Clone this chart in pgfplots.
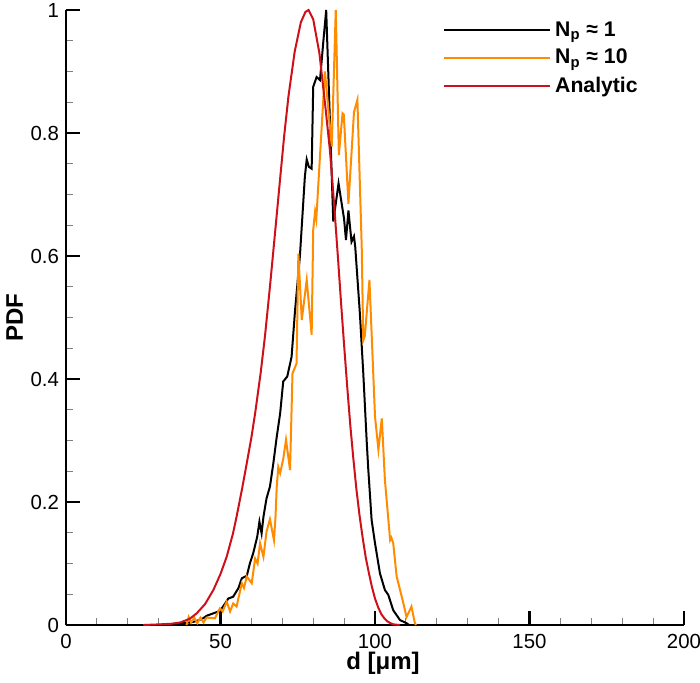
\documentclass[border=0pt]{standalone}
\usepackage{pgfplots}
\pgfplotsset{compat=1.18}
\usepackage{fontspec}
\setmainfont{Liberation Sans}
\definecolor{cOrange}{RGB}{255,140,0}
\definecolor{cRed}{RGB}{205,16,26}
\begin{document}
\begin{tikzpicture}
\useasboundingbox (-33pt,-28.5pt) rectangle (317pt,312.5pt);
\begin{axis}[
  at={(0,0)}, anchor=south west,
  scale only axis, width=309pt, height=307.5pt,
  xmin=0, xmax=200, ymin=0, ymax=1,
  axis x line=bottom, axis y line=left,
  axis line style={-, line width=1.2pt},
  xtick={0,50,100,150,200}, ytick={0,0.2,0.4,0.6,0.8,1},
  minor x tick num=4, minor y tick num=3,
  tick align=inside,
  major tick length=7pt, minor tick length=3.5pt,
  major tick style={line width=1.2pt, black},
  minor tick style={line width=0.5pt, gray},
  /pgf/number format/assume math mode=true,
  ticklabel style={font=\fontsize{10.2}{12}\selectfont},
  xticklabel style={yshift=-1pt},
  xlabel={\textbf{d [μm]}},
  ylabel={\textbf{PDF}},
  label style={font=\fontsize{12}{14}\selectfont},
  xlabel style={at={(axis description cs:0.513,-0.062)}, anchor=center},
  ylabel style={at={(axis description cs:-0.083,0.5)}, anchor=center},
  clip=false,
  legend style={draw=none, fill=none, at={(axis description cs:0.6,0.995)}, anchor=north west,
    font=\fontsize{10.6}{12}\selectfont\bfseries, row sep=1pt},
  legend cell align=left,
  legend image code/.code={\draw[#1] (0pt,0pt) -- (50pt,0pt); \path (0pt,0pt) -- (53pt,0pt);},
]
\addplot[black, line width=1pt] table {
x y
30 0.000
36 0.002
40 0.004
42 0.006
44.4 0.011
45.5 0.015
47.7 0.019
49.3 0.022
50.4 0.027
51.5 0.035
52.5 0.043
54.1 0.046
55.8 0.060
56.9 0.076
58.5 0.080
59.5 0.100
60.6 0.117
61.9 0.144
62.6 0.168
63.3 0.149
63.9 0.176
64.9 0.206
66.0 0.225
67.1 0.263
68.2 0.306
69.3 0.344
70.3 0.396
71.6 0.404
73.0 0.436
74.1 0.510
75.7 0.600
77.3 0.729
77.9 0.757
78.6 0.745
79.5 0.742
80.0 0.875
81.1 0.891
82.2 0.886
83.3 0.950
84.2 1.000
86.5 0.656
88.2 0.718
90.0 0.660
90.6 0.626
91.4 0.674
92.4 0.623
93.2 0.632
93.6 0.615
95.1 0.507
96.2 0.410
97.3 0.300
97.8 0.255
98.9 0.171
100.0 0.133
101.6 0.084
103.2 0.057
104.3 0.049
105.9 0.024
108.1 0.008
110.2 0.003
111.0 0.000
};
\addlegendentry{N\textsubscript{p} ≈ 1}
\addplot[cOrange, line width=1pt] table {
x y
39.0 0.000
39.7 0.013
40.5 0.004
41.5 0.012
42.5 0.003
43.5 0.012
44.5 0.004
45.5 0.012
48.2 0.011
49.8 0.027
50.7 0.022
52.0 0.038
53.1 0.022
54.1 0.035
55.2 0.030
56.9 0.068
57.6 0.060
58.5 0.079
60.1 0.068
61.2 0.108
62.0 0.100
62.8 0.133
63.9 0.111
64.9 0.152
66.0 0.172
67.3 0.138
67.8 0.176
68.2 0.225
68.7 0.257
69.3 0.247
70.3 0.270
71.2 0.301
72.5 0.252
73.3 0.409
74.6 0.425
75.2 0.604
76.3 0.496
77.9 0.561
79.5 0.472
80.0 0.642
80.6 0.672
81.0 0.660
83.8 0.900
86.0 0.778
87.3 1.000
88.3 0.764
89.5 0.832
89.9 0.830
91.4 0.685
93.2 0.834
94.3 0.854
95.7 0.615
96.2 0.463
96.7 0.470
98.2 0.561
100.0 0.339
101.1 0.285
102.2 0.336
103.2 0.236
104.9 0.138
105.3 0.142
105.9 0.133
107.0 0.079
109.2 0.035
110.2 0.013
111.8 0.030
112.9 0.003
113.3 0.000
};
\addlegendentry{N\textsubscript{p} ≈ 10}
\addplot[cRed, line width=1pt] table {
x y
25 0.000
30 0.001
34 0.002
36.9 0.004
40 0.010
42.3 0.019
45 0.034
47.7 0.057
50 0.083
52 0.111
54 0.148
55.2 0.176
57 0.222
58.5 0.263
60 0.305
61.2 0.344
63 0.410
64.4 0.470
66 0.550
67.6 0.635
69 0.710
70.6 0.795
72 0.860
74 0.932
76 0.980
77.5 0.997
78.5 1.000
80 0.985
82 0.930
84 0.840
85.4 0.772
86 0.735
87 0.668
88 0.598
89 0.525
90 0.455
91 0.388
92 0.325
93 0.270
94 0.220
95 0.178
96 0.142
97 0.110
98 0.085
99 0.062
100 0.043
101 0.029
102 0.018
103 0.011
104 0.006
105 0.003
106 0.001
108 0.000
};
\addlegendentry{Analytic}
\end{axis}
\end{tikzpicture}
\end{document}
